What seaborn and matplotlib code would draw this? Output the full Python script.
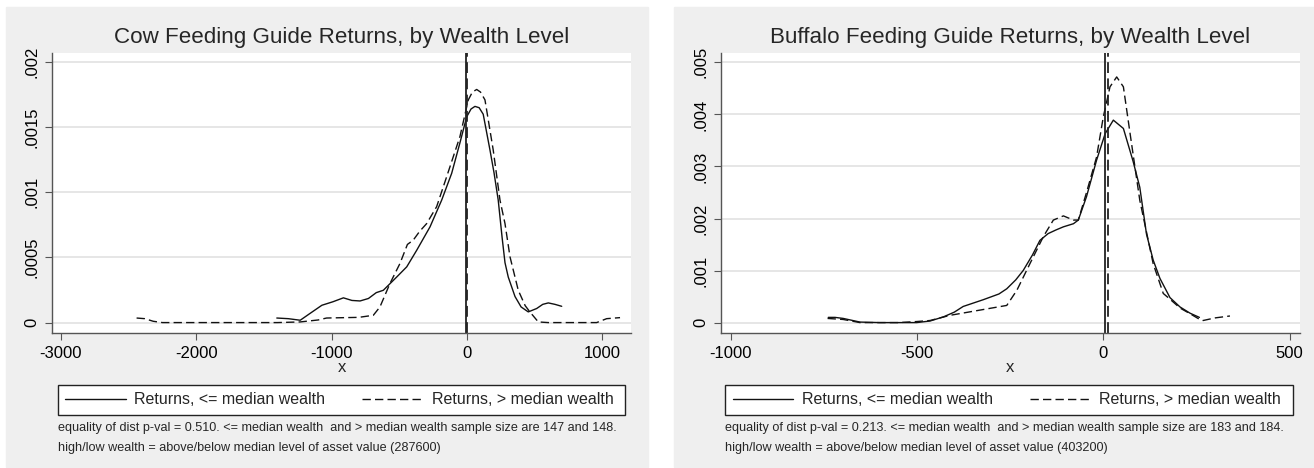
import pandas as pd
import matplotlib
matplotlib.use('Agg')
import matplotlib.pyplot as plt
from matplotlib.lines import Line2D
from matplotlib.patches import Rectangle
import seaborn as sns

# kernel density curves, cow panel
cow_low_x = [-1405, -1320, -1232, -1160, -1072, -990, -913, -850, -790, -728, -670, -618,
             -519, -445, -371, -273, -187, -113, -52, -2, 30, 59, 90, 120, 170, 200, 231,
             260, 281, 305, 355, 400, 453, 515, 560, 601, 650, 700]
cow_low_y = [.000035, .00003, .000018, .00007, .000133, .00016, .00019, .00017, .000166,
             .000185, .00023, .000248, .00035, .000428, .000556, .000735, .00094, .001146,
             .00138, .00158, .00164, .00166, .00165, .00160, .001325, .00115, .00094,
             .00065, .00046, .00035, .0002, .00012, .000082, .000108, .00014, .000151,
             .00014, .000125]
cow_high_x = [-2441, -2380, -2318, -2250, -2000, -1800, -1600, -1400, -1232, -1100, -1037,
              -900, -800, -692, -643, -569, -495, -440, -397, -350, -298, -224, -150, -52,
              10, 40, 72, 100, 133, 194, 244, 281, 318, 379, 430, 465, 527, 600, 800, 958,
              1032, 1131]
cow_high_y = [.000035, .00003, .00001, 0, 0, 0, 0, 0, .000005, .00002, .000035, .000038,
              .00004, .000056, .00012, .0003, .000454, .0006, .000633, .0007, .00076,
              .00089, .00112, .001428, .00171, .00177, .00179, .00177, .00171, .001325,
              .00094, .00076, .000505, .000248, .00013, .000082, .000005, 0, 0, 0, .00003,
              .000038]

# buffalo panel
buf_low_x = [-738, -720, -698, -653, -600, -550, -501, -465, -429, -400, -376, -322, -280,
             -259, -235, -215, -190, -170, -148, -127, -107, -80, -67, -45, -18, 5, 27, 54,
             80, 98, 116, 134, 152, 179, 206, 233, 258]
buf_low_y = [.0001, .0001, .00008, .00001, 0, 0, 0, .00003, .00011, .0002, .00031, .00044,
             .00055, .00065, .00082, .001, .0013, .00158, .00171, .00178, .00184, .0019,
             .00197, .00242, .00312, .00363, .00389, .00373, .0031, .0026, .0017, .0012,
             .00085, .00048, .0003, .00018, .0001]
buf_high_x = [-740, -698, -653, -600, -550, -501, -465, -411, -331, -259, -232, -197, -161,
              -134, -107, -80, -67, -45, -18, 0, 18, 36, 54, 72, 98, 134, 161, 179, 206,
              233, 259, 268, 300, 340]
buf_high_y = [.00008, .00006, 0, 0, 0, .00002, .00004, .00014, .00024, .00033, .00062,
              .00113, .00165, .00197, .00205, .00197, .00197, .0025, .00318, .00395, .00453,
              .00472, .00453, .00363, .00235, .00113, .00056, .00045, .00028, .00017,
              .00006, .00004, .00009, .000127]

# medians drawn as vertical lines
cow_medians = [-4, 1]
buf_medians = [5, 12]

cow_xticks = [-3000, -2000, -1000, 0, 1000]
cow_yticks = [0, .0005, .001, .0015, .002]
cow_ylabels = ['0', '.0005', '.001', '.0015', '.002']
buf_xticks = [-1000, -500, 0, 500]
buf_yticks = [0, .001, .002, .003, .004, .005]
buf_ylabels = ['0', '.001', '.002', '.003', '.004', '.005']

groups = ['Returns, <= median wealth', 'Returns, > median wealth']

cow_title = 'Cow Feeding Guide Returns, by Wealth Level'
buf_title = 'Buffalo Feeding Guide Returns, by Wealth Level'
cow_notes = ['equality of dist p-val = 0.510. <= median wealth  and > median wealth sample size are 147 and 148.',
             'high/low wealth = above/below median level of asset value (287600)']
buf_notes = ['equality of dist p-val = 0.213. <= median wealth  and > median wealth sample size are 183 and 184.',
             'high/low wealth = above/below median level of asset value (403200)']


def make_df(lx, ly, hx, hy):
    low = pd.DataFrame({'x': lx, 'density': ly, 'group': groups[0]})
    high = pd.DataFrame({'x': hx, 'density': hy, 'group': groups[1]})
    return pd.concat([low, high], ignore_index=True)


sns.set_theme(style='white')
plt.rcParams['font.family'] = ['Liberation Sans', 'DejaVu Sans']

W, H = 1314, 468
fig = plt.figure(figsize=(W / 100, H / 100), dpi=100)
fig.patch.set_facecolor('white')

DASH = (6, 3)
panels = [
    dict(df=make_df(cow_low_x, cow_low_y, cow_high_x, cow_high_y), medians=cow_medians,
         xticks=cow_xticks, yticks=cow_yticks, ylabels=cow_ylabels, xlim=(-3066, 1212),
         ylim=(-0.00008, 0.00207), title=cow_title, notes=cow_notes,
         bg=(6, 648), ax_x=(52, 631), leg_x=(57.5, 625)),
    dict(df=make_df(buf_low_x, buf_low_y, buf_high_x, buf_high_y), medians=buf_medians,
         xticks=buf_xticks, yticks=buf_yticks, ylabels=buf_ylabels, xlim=(-1026, 528),
         ylim=(-0.0002, 0.00518), title=buf_title, notes=buf_notes,
         bg=(674, 1314), ax_x=(721, 1300), leg_x=(725, 1293)),
]

for p in panels:
    # grey graph region behind each panel
    x0, x1 = p['bg']
    fig.patches.append(Rectangle((x0 / W, 1 - 467 / H), (x1 - x0) / W, 460 / H,
                                 transform=fig.transFigure, color='#efefef', zorder=-10))

    a0, a1 = p['ax_x']
    ax = fig.add_axes([a0 / W, 1 - 333 / H, (a1 - a0) / W, 280 / H])
    ax.set_facecolor('white')

    sns.lineplot(data=p['df'], x='x', y='density', style='group', color='#111111',
                 dashes={groups[0]: '', groups[1]: DASH}, sort=False, estimator=None,
                 linewidth=1.0, legend=False, ax=ax)

    ax.axvline(p['medians'][0], color='#222222', lw=1.3)
    ax.axvline(p['medians'][1], color='#222222', lw=1.3, dashes=DASH)

    ax.set_xlim(p['xlim'])
    ax.set_ylim(p['ylim'])
    ax.set_xticks(p['xticks'])
    ax.set_xticklabels([str(t) for t in p['xticks']])
    ax.set_yticks(p['yticks'])
    ax.set_yticklabels(p['ylabels'], rotation=90, va='center')
    ax.grid(axis='y', color='#e6e6e6', lw=1.4)
    ax.grid(axis='x', visible=False)
    for side in ['top', 'right']:
        ax.spines[side].set_visible(False)
    for side in ['left', 'bottom']:
        ax.spines[side].set_color('#555555')
        ax.spines[side].set_linewidth(1.0)
    ax.tick_params(axis='both', direction='out', length=5, width=0.8, color='#555555',
                   labelsize=12, labelcolor='black', pad=4, left=True, bottom=True)
    ax.set_xlabel('x', fontsize=12, labelpad=0)
    ax.set_ylabel('')

    cx = (a0 + a1) / 2 / W
    fig.text(cx, 1 - 37 / H, p['title'], ha='center', va='center', fontsize=16.1)

    # legend: white box with both keys side by side
    l0, l1 = p['leg_x']
    fig.patches.append(Rectangle((l0 / W, 1 - 414.5 / H), (l1 - l0) / W, 29.5 / H,
                                 transform=fig.transFigure, facecolor='white',
                                 edgecolor='#222222', lw=1.0, zorder=1))
    handles = [Line2D([], [], color='#111111', lw=1.0),
               Line2D([], [], color='#111111', lw=1.0, dashes=DASH)]
    fig.legend(handles, groups, loc='center left', ncol=2,
               bbox_to_anchor=((l0 + 7.5) / W, 1 - 400 / H),
               frameon=False, fontsize=11.5, handlelength=3.8, handletextpad=0.55,
               columnspacing=2.3, borderaxespad=0, borderpad=0)

    fig.text(l0 / W, 1 - 428 / H, p['notes'][0], ha='left', va='center', fontsize=9.1)
    fig.text(l0 / W, 1 - 448 / H, p['notes'][1], ha='left', va='center', fontsize=9.1)

fig.savefig('out.png', dpi=100)
